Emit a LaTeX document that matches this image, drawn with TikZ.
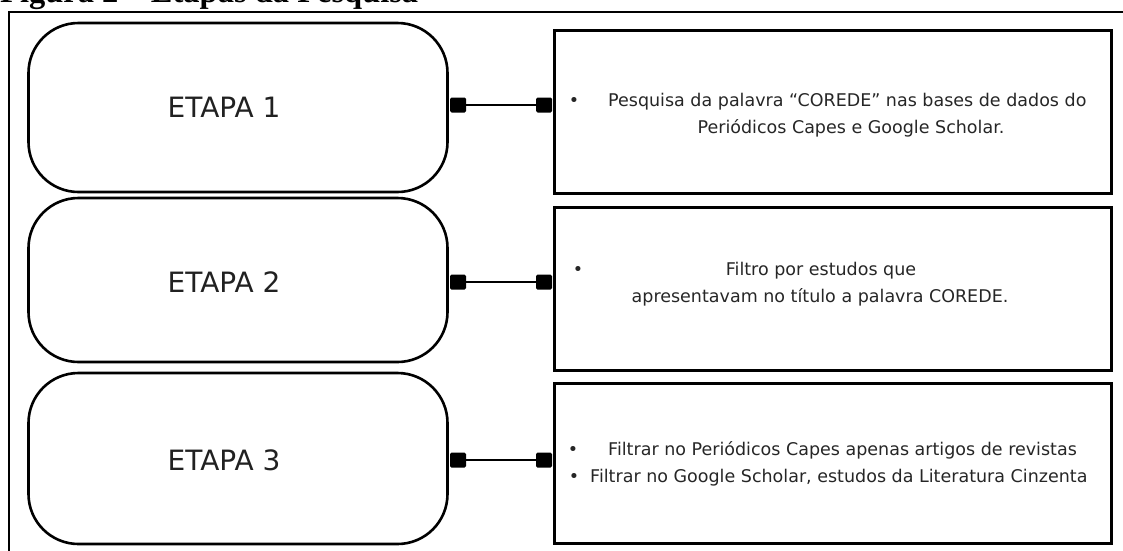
\documentclass[tikz,border=0pt]{standalone}
\usepackage{fontspec}
\setmainfont{DejaVu Sans}
\newfontfamily\titlefont{Liberation Serif}
\begin{document}
\begin{tikzpicture}[x=1pt,y=-1pt,
  etapa/.style={draw=black, line width=2.6pt, rounded corners=50pt, minimum width=419pt, inner sep=0pt},
  descbox/.style={draw=black, line width=3.8pt, minimum width=557pt, inner sep=0pt},
  plug/.style={fill=black, rounded corners=1.5pt, minimum width=16pt, minimum height=15pt, inner sep=0pt},
  wire/.style={line width=2.4pt},
  etext/.style={font=\fontsize{28}{32}\selectfont, text=black!87, inner sep=0pt},
  dtext/.style={font=\fontsize{17.5}{20}\selectfont, text=black!85, inner sep=0pt},
  frame/.style={line width=2pt}]
\useasboundingbox (0,0) rectangle (1123,550);
\clip (0,0) rectangle (1123,550);
% outer frame
\coordinate (fa) at (9,560);
\coordinate (fb) at (9,12);
\coordinate (fc) at (1130,12);
\draw[frame] (fa) -- (fb) -- (fc);
% title
\node[anchor=base west, inner sep=0pt, font=\titlefont\bfseries\fontsize{32.5}{36}\selectfont] (title) at (0,2) {Figura 2 – Etapas da Pesquisa};
% left boxes
\node[etapa, minimum height=169pt] (e1) at (238,107.5) {};
\node[etapa, minimum height=164pt] (e2) at (238,280) {};
\node[etapa, minimum height=171pt] (e3) at (238,458.5) {};
\node[etext] (t1) at (224,107) {ETAPA 1};
\node[etext] (t2) at (224,282) {ETAPA 2};
\node[etext] (t3) at (224,460) {ETAPA 3};
% right boxes
\node[descbox, minimum height=163pt] (d1) at (833,112) {};
\node[descbox, minimum height=163pt] (d2) at (833,289) {};
\node[descbox, minimum height=160pt] (d3) at (833,463.5) {};
% connectors
\node[plug] (p1a) at (458,105) {};
\node[plug] (p1b) at (544,105) {};
\node[plug] (p2a) at (458,282) {};
\node[plug] (p2b) at (544,282) {};
\node[plug] (p3a) at (458,460) {};
\node[plug] (p3b) at (544,460) {};
\draw[wire] (p1a.center) -- (p1b.center);
\draw[wire] (p2a.center) -- (p2b.center);
\draw[wire] (p3a.center) -- (p3b.center);
% texts box 1
\node[dtext, anchor=base] (b1) at (574,106) {•};
\node[dtext, anchor=base west] (l11) at (608,106) {Pesquisa da palavra “COREDE” nas bases de dados do};
\node[dtext, anchor=base] (l12) at (851,133) {Periódicos Capes e Google Scholar.};
% texts box 2
\node[dtext, anchor=base] (b2) at (578,275) {•};
\node[dtext, anchor=base] (l21) at (821,275) {Filtro por estudos que};
\node[dtext, anchor=base] (l22) at (820,302) {apresentavam no título a palavra COREDE.};
% texts box 3
\node[dtext, anchor=base] (b31) at (573,455) {•};
\node[dtext, anchor=base west] (l31) at (608,455) {Filtrar no Periódicos Capes apenas artigos de revistas};
\node[dtext, anchor=base] (b32) at (574,482) {•};
\node[dtext, anchor=base west] (l32) at (590,482) {Filtrar no Google Scholar, estudos da Literatura Cinzenta};
\end{tikzpicture}
\end{document}
